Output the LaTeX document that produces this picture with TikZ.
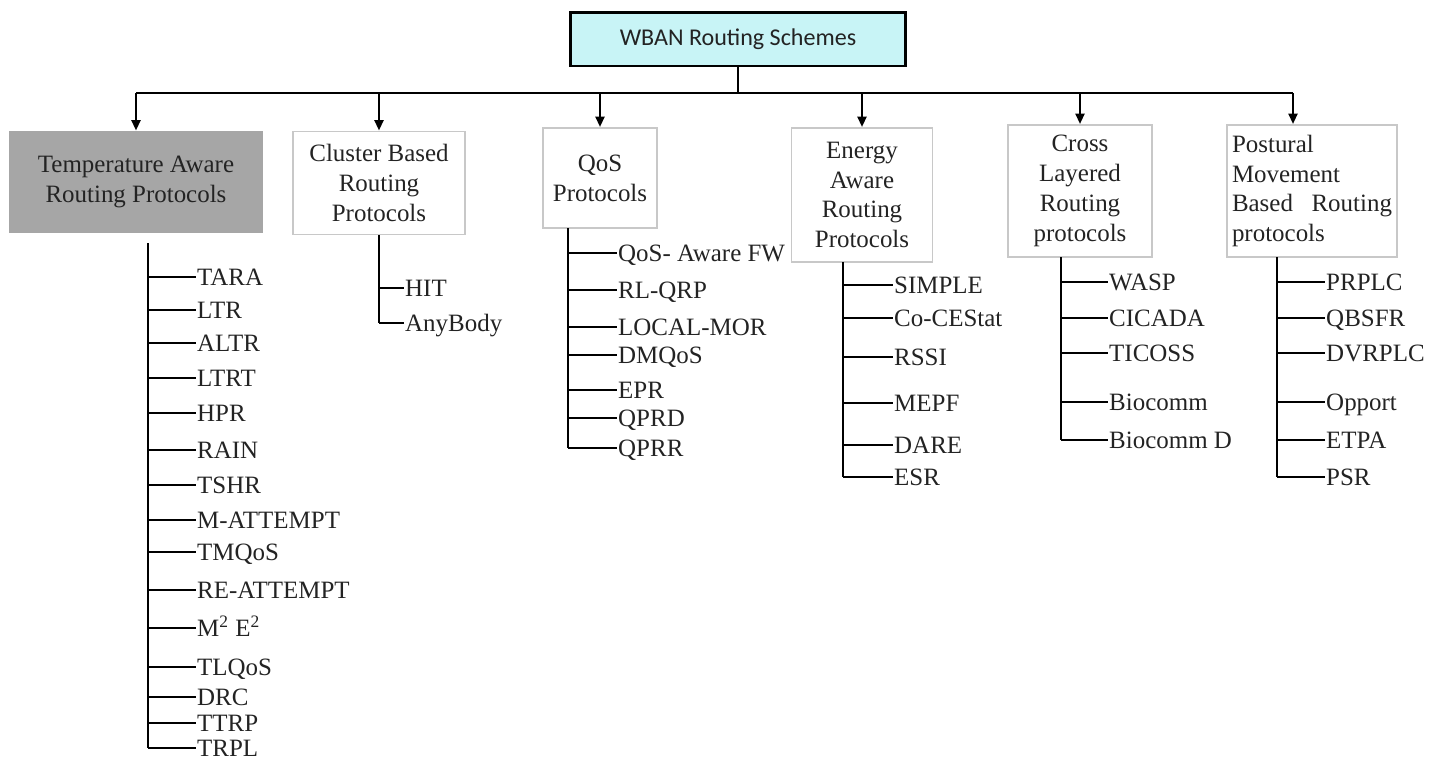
\documentclass[tikz,border=0pt]{standalone}
\usepackage{fontspec}
\setmainfont{Liberation Serif}
\newfontfamily\rootfont{Carlito}
\usepackage{tikz}
\usetikzlibrary{arrows.meta, positioning, calc}
\definecolor{rootcyan}{RGB}{200, 244, 246}
\definecolor{tempgray}{RGB}{166, 166, 166}
\definecolor{boxgray}{RGB}{200, 200, 200}
\definecolor{leafink}{RGB}{35, 35, 35}

\begin{document}
\begin{tikzpicture}[
    x=0.02cm, y=-0.02cm,
    rootbox/.style={draw=black, line width=1.7pt, fill=rootcyan, minimum width=6.7cm, minimum height=1.08cm, font=\rootfont\fontsize{13.7pt}{16pt}\selectfont, text=leafink},
    catbox/.style={draw=boxgray, line width=1pt, align=center, inner sep=0pt, font=\fontsize{14.2pt}{17pt}\selectfont, text=leafink},
    leaf/.style={anchor=west, inner sep=0.5pt, text height=10pt, text depth=0.6pt, font=\fontsize{14.2pt}{17pt}\selectfont, text=leafink},
    busline/.style={line width=1.6pt},
    trunk/.style={line width=1.6pt},
    arrow/.style={-{Triangle[length=6pt, width=5pt]}, line width=1.6pt}
]
    \useasboundingbox (0,0) rectangle (1448,761);

    % Root and categories
    \node[rootbox] (root) at (738,39) {WBAN Routing Schemes};
    \node[catbox, fill=tempgray, draw=tempgray, minimum width=5.04cm, minimum height=2.02cm] (temp) at (136,182) {Temperature Aware\\ Routing Protocols};
    \node[catbox, minimum width=3.44cm, minimum height=2.06cm] (clus) at (379,183) {Cluster Based\\ Routing\\ Protocols};
    \node[catbox, minimum width=2.28cm, minimum height=2.0cm] (qos) at (600,178) {QoS\\ Protocols};
    \node[catbox, minimum width=2.82cm, minimum height=2.68cm] (ener) at (862,195) {Energy\\ Aware\\ Routing\\ Protocols};
    \node[catbox, minimum width=2.88cm, minimum height=2.64cm] (cross) at (1080,191) {Cross\\ Layered\\ Routing\\ protocols};
    \node[catbox, align=left, inner xsep=0.1cm, text width=3.2cm, minimum height=2.64cm] (post) at (1312,191) {Postural\\ Movement\\ Based\hfill Routing\\ protocols};

    % Bus and arrows
    \coordinate (bus) at (738,93);
    \coordinate (busR) at (1293,93);
    \draw[busline] (root.south) -- (bus);
    \draw[busline] (temp.north |- bus) -- (busR);
    \foreach \c in {temp, clus, qos, ener, cross}
        \draw[arrow] (\c.north |- bus) -- (\c.north);
    \draw[arrow] (busR) -- (busR |- post.north);

    % Temperature aware
    \coordinate (tatop) at (148,243);
    \foreach \txt/\y [count=\i] in {TARA/277, LTR/310, ALTR/343, LTRT/378, HPR/413, RAIN/450, TSHR/485, M-ATTEMPT/520, TMQoS/552, RE-ATTEMPT/590, {M\textsuperscript{2} E\textsuperscript{2}}/628, TLQoS/667, DRC/697, TTRP/723, TRPL/748}
        \node[leaf] (ta\i) at (196,\y) {\txt};
    \draw[trunk] (tatop) -- (tatop |- ta15.west);
    \foreach \i in {1,...,15}
        \draw[trunk] (tatop |- ta\i.west) -- (ta\i.west);

    % Cluster based
    \coordinate (cltop) at (clus.south);
    \foreach \txt/\y [count=\i] in {HIT/288, AnyBody/323}
        \node[leaf] (cl\i) at (404,\y) {\txt};
    \draw[trunk] (cltop) -- (cltop |- cl2.west);
    \foreach \i in {1,2}
        \draw[trunk] (cltop |- cl\i.west) -- (cl\i.west);

    % QoS
    \coordinate (qotop) at (568,228);
    \foreach \txt/\y [count=\i] in {QoS- Aware FW/253, RL-QRP/290, LOCAL-MOR/327, DMQoS/355, EPR/390, QPRD/418, QPRR/448}
        \node[leaf] (qo\i) at (617,\y) {\txt};
    \draw[trunk] (qotop) -- (qotop |- qo7.west);
    \foreach \i in {1,...,7}
        \draw[trunk] (qotop |- qo\i.west) -- (qo\i.west);

    % Energy aware
    \coordinate (entop) at (843,262);
    \foreach \txt/\y [count=\i] in {SIMPLE/285, Co-CEStat/318, RSSI/357, MEPF/403, DARE/445, ESR/477}
        \node[leaf] (en\i) at (893,\y) {\txt};
    \draw[trunk] (entop) -- (entop |- en6.west);
    \foreach \i in {1,...,6}
        \draw[trunk] (entop |- en\i.west) -- (en\i.west);

    % Cross layered
    \coordinate (crtop) at (1061,257);
    \foreach \txt/\y [count=\i] in {WASP/282, CICADA/318, TICOSS/353, Biocomm/402, Biocomm D/440}
        \node[leaf] (cr\i) at (1108,\y) {\txt};
    \draw[trunk] (crtop) -- (crtop |- cr5.west);
    \foreach \i in {1,...,5}
        \draw[trunk] (crtop |- cr\i.west) -- (cr\i.west);

    % Postural movement
    \coordinate (potop) at (1277,257);
    \foreach \txt/\y [count=\i] in {PRPLC/282, QBSFR/318, DVRPLC/353, Opport/402, ETPA/440, PSR/477}
        \node[leaf] (po\i) at (1325,\y) {\txt};
    \draw[trunk] (potop) -- (potop |- po6.west);
    \foreach \i in {1,...,6}
        \draw[trunk] (potop |- po\i.west) -- (po\i.west);

\end{tikzpicture}
\end{document}
